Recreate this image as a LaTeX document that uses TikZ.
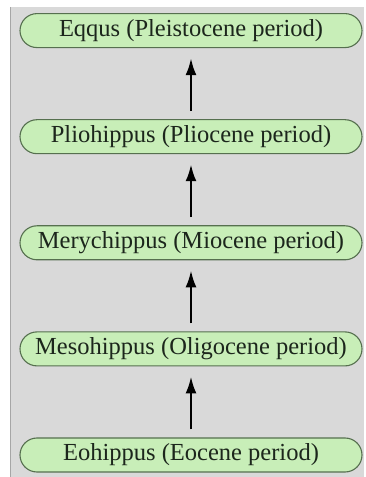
\documentclass[tikz,border=0pt]{standalone}
\usepackage{fontspec}
\setmainfont{Liberation Serif}
\usetikzlibrary{positioning,shapes,arrows.meta}
\definecolor{panelgray}{HTML}{D9D9D9}
\definecolor{boxgreen}{HTML}{C8EEB8}
\definecolor{boxline}{HTML}{56704F}
\definecolor{stagetext}{HTML}{1C261C}

\begin{document}
\begin{tikzpicture}[
	x=1pt,y=1pt,
	node distance=71pt,
	stage/.style={draw=boxline,fill=boxgreen,line width=1.1pt,rounded corners=17pt,minimum width=342pt,minimum height=34pt,inner sep=0pt,text=stagetext,font=\fontsize{24.5}{27}\selectfont}
	]
	\useasboundingbox (0,0) rectangle (366,477);
	\fill[panelgray] (10,0) rectangle (364,470);
	\draw[gray!70,line width=0.8pt] (10.5,0) -- (10.5,470);
	\node[stage] (eohippus) at (191,22) {Eohippus (Eocene period)};
	\node[stage,above=of eohippus] (mesohippus) {Mesohippus (Oligocene period)};
	\node[stage,above=of mesohippus] (merychippus) {Merychippus (Miocene period)};
	\node[stage,above=of merychippus] (pliohippus) {Pliohippus (Pliocene period)};
	\node[stage,above=of pliohippus] (eqqus) {Eqqus (Pleistocene period)};
	\path [-{Latex[length=17pt,width=11pt]},line width=2.5pt,shorten <=8pt,shorten >=10pt]
	(eohippus) edge (mesohippus)
	(mesohippus) edge (merychippus)
	(merychippus) edge (pliohippus)
	(pliohippus) edge (eqqus);
\end{tikzpicture}
\end{document}
